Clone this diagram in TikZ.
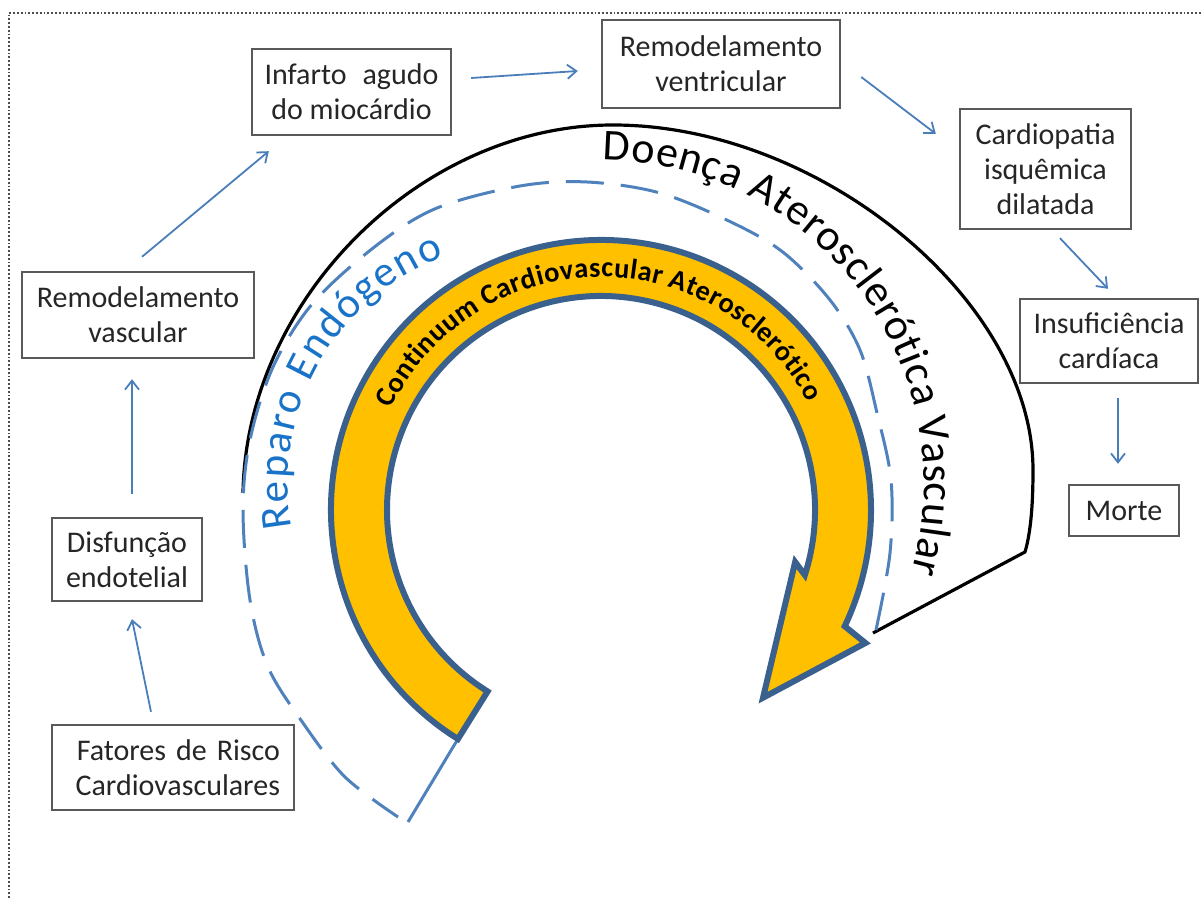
\documentclass[tikz,border=0pt]{standalone}
\usepackage{fontspec}
\setmainfont{Carlito}
\usetikzlibrary{calc,arrows.meta,decorations.text}

\definecolor{bandfill}{RGB}{255,192,0}
\definecolor{bandedge}{RGB}{58,96,142}
\definecolor{dashblue}{RGB}{79,129,189}
\definecolor{flowblue}{RGB}{74,126,187}
\definecolor{reparoblue}{RGB}{25,115,200}
\definecolor{boxgray}{RGB}{89,89,89}

\begin{document}
\begin{tikzpicture}[x=0.5pt,y=-0.5pt,
  box/.style={draw=boxgray,line width=1.2pt,align=center,inner sep=0pt,
    font=\fontsize{15}{17.5}\selectfont,text=black!85},
  flow/.style={draw=flowblue,line width=0.9pt,-{Straight Barb[length=4.5pt,width=7pt]}}]
  \useasboundingbox (0,0) rectangle (1201,898);
  \draw[black!70,line width=0.9pt,densely dotted] (9,898) -- (9,13) -- (1201,13);

  % outer outline of the disease band
  \draw[line width=1.6pt,line join=round] (243,493)
    .. controls (246,300) and (420,125) .. (613,125)
    .. controls (820,125) and (1033,300) .. (1033,470)
    .. controls (1033,510) and (1030,535) .. (1025,552)
    -- (873,633);

  % repair line
  \draw[dashblue,line width=1.5pt,dash pattern=on 19pt off 8.5pt]
    plot[smooth,tension=0.55] coordinates {
    (876,630) (890,553) (891,480) (877,413) (860,350) (830,300) (784,253)
    (733,223) (660,193) (587,182) (520,186) (437,208) (377,245) (313,303)
    (273,367) (250,440) (243,510) (250,600) (268,667) (303,723) (345,777)
    (398,817)};

  \begin{scope}[shift={(601,510)}]
    \coordinate (tail) at (122:270);
    \coordinate (foot) at (-193,312);
    \draw[dashblue,line width=1.5pt] (tail) -- (foot);
    \draw[bandedge,line width=3pt,fill=bandfill,line join=miter]
      (122:270) arc[start angle=122,end angle=385.5,radius=270]
      -- (26.7:296) -- (49.2:248) -- (15:201) -- (17.7:214)
      arc[start angle=377.7,end angle=122,radius=214] -- cycle;
    \path[decorate,decoration={text along path,text align=fit to path,
      text={|\fontsize{14.2}{17}\selectfont\bfseries|Continuum Cardiovascular Aterosclerótico}}]
      (205.7:233) arc[start angle=205.7,end angle=332.5,radius=233];
  \end{scope}

  \path[decorate,decoration={text along path,text align=fit to path,
    text={|\fontsize{22}{26}\selectfont|Doença Aterosclerótica Vascular}}]
    (600,484) ++(270.5:324) arc[start angle=270.5,end angle=375.8,radius=324];
  \path[decorate,decoration={text along path,text align=fit to path,text color=reparoblue,
    text={|\fontsize{21.5}{26}\selectfont|Reparo Endógeno}}]
    (528,482) ++(169.2:240) arc[start angle=169.2,end angle=249.5,radius=240];

  \node[box,minimum width=99.5pt,minimum height=43pt] (infarto) at (351.5,92)
    {Infarto\hspace{8pt}agudo\\do miocárdio};
  \node[box,minimum width=119pt,minimum height=44pt] (remvent) at (721,64)
    {Remodelamento\\ventricular};
  \node[box,minimum width=85.5pt,minimum height=60pt] (cardio) at (1045.5,169)
    {Cardiopatia\\isquêmica\\dilatada};
  \node[box,minimum width=89pt,minimum height=42pt] (insuf) at (1109,341)
    {Insuficiência\\cardíaca};
  \node[box,minimum width=55pt,minimum height=25.5pt] (morte) at (1124,510.5) {Morte};
  \node[box,minimum width=116pt,minimum height=43pt] (remvasc) at (138,315)
    {Remodelamento\\vascular};
  \node[box,minimum width=75pt,minimum height=41.5pt] (disf) at (127,559.5)
    {Disfunção\\endotelial};
  \node[box,minimum width=121pt,minimum height=42.5pt,text width=107pt,align=right]
    (fatores) at (173,767.5) {Fatores de Risco\\Cardiovasculares};

  \draw[flow] ($(fatores.north)+(-22,-12)$) -- ($(disf.south)+(5,17)$);
  \draw[flow] ($(disf.north)+(5,-23)$) -- ($(remvasc.south)+(-6,20)$);
  \draw[flow] ($(remvasc.north)+(4,-14)$) -- ($(infarto.south west)+(18,15)$);
  \draw[flow] ($(infarto.east)+(19,-14)$) -- ($(remvent.west)+(-23,7)$);
  \draw[flow] ($(remvent.east)+(20,13)$) -- ($(cardio.north west)+(-23,26)$);
  \draw[flow] ($(cardio.south)+(14.5,8)$) -- ($(insuf.north)+(-1,-9)$);
  \draw[flow] ($(insuf.south)+(9,14)$) -- ($(morte.north)+(-6,-20)$);
\end{tikzpicture}
\end{document}
